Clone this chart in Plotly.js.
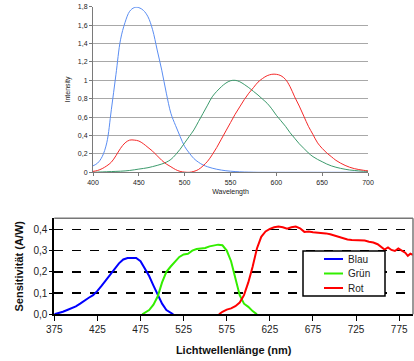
<!DOCTYPE html>
<html>
<head>
<meta charset="utf-8">
<script src="https://cdn.plot.ly/plotly-3.0.1.min.js"></script>
<style>html,body{margin:0;padding:0;background:#fff;}#chart{width:414px;height:361px;}</style>
</head>
<body>
<div id="chart"></div>
<script>
// ---- Top chart: cone sensitivities ----
const topWl = [400,405,410,415,420,425,430,435,440,445,450,455,460,465,470,475,480,485,490,495,500,505,510,515,520,525,530,535,540,545,550,555,560,565,570,575,580,585,590,595,600,605,610,615,620,625,630,635,640,645,650,655,660,665,670,675,680,685,690,695,700];
const topBlue = [0.07,0.10,0.17,0.32,0.68,1.06,1.44,1.63,1.75,1.79,1.79,1.76,1.69,1.55,1.33,1.11,0.86,0.64,0.51,0.39,0.28,0.21,0.15,0.11,0.08,0.06,0.045,0.033,0.024,0.017,0.012,0.008,0.005,0.003,0.002,0.001,0,0,0,0,0,0,0,0,0,0,0,0,0,0,0,0,0,0,0,0,0,0,0,0,0];
const topGreen = [0,0.002,0.004,0.006,0.008,0.01,0.012,0.015,0.02,0.027,0.035,0.042,0.05,0.062,0.075,0.09,0.11,0.14,0.19,0.25,0.32,0.39,0.46,0.55,0.64,0.73,0.82,0.88,0.93,0.97,0.995,1.0,0.985,0.955,0.92,0.88,0.84,0.795,0.75,0.69,0.62,0.56,0.5,0.43,0.37,0.31,0.26,0.21,0.17,0.14,0.115,0.09,0.07,0.055,0.043,0.033,0.025,0.02,0.015,0.012,0.01];
const topRed = [0.01,0.02,0.04,0.07,0.11,0.18,0.26,0.32,0.35,0.35,0.34,0.31,0.27,0.23,0.18,0.13,0.09,0.06,0.03,0.01,0.002,0,0.01,0.03,0.07,0.12,0.19,0.27,0.36,0.45,0.54,0.63,0.71,0.79,0.86,0.92,0.98,1.02,1.05,1.065,1.065,1.05,1.01,0.93,0.82,0.72,0.61,0.5,0.41,0.32,0.26,0.21,0.17,0.13,0.1,0.075,0.055,0.04,0.03,0.022,0.015];

// ---- Bottom chart: sensor sensitivity ----
const blauWl = [375,380,385,390,395,400,405,410,415,420,425,430,435,440,445,450,455,460,465,470,475,480,485,490,495,500,505,510,513];
const blauVal = [0,0.005,0.012,0.02,0.028,0.037,0.05,0.065,0.078,0.09,0.11,0.135,0.16,0.185,0.21,0.24,0.258,0.265,0.265,0.265,0.25,0.215,0.18,0.135,0.09,0.05,0.02,0.005,0];
const gruenWl = [477,480,485,490,495,500,505,510,515,520,525,530,535,540,545,550,555,560,565,570,575,580,585,590,595,600,605,610];
const gruenVal = [0,0.008,0.02,0.045,0.085,0.15,0.2,0.225,0.25,0.27,0.282,0.285,0.3,0.307,0.31,0.312,0.32,0.325,0.328,0.325,0.3,0.25,0.17,0.09,0.05,0.035,0.015,0];
const rotWl = [566,570,575,580,585,590,595,600,605,610,615,620,625,630,635,640,645,650,655,660,665,670,675,680,685,690,695,700,705,710,715,720,725,730,735,740,745,750,755,758,762,766,770,774,778,782,785,788,791];
const rotVal = [0,0.012,0.022,0.028,0.038,0.055,0.09,0.15,0.224,0.31,0.365,0.39,0.402,0.41,0.413,0.41,0.403,0.41,0.413,0.405,0.388,0.39,0.386,0.385,0.384,0.381,0.377,0.371,0.364,0.357,0.352,0.35,0.35,0.35,0.347,0.342,0.338,0.33,0.312,0.305,0.315,0.303,0.298,0.31,0.3,0.29,0.275,0.285,0.28];
const legendNames = ['Blau','Grün','Rot'];
const legendColors = ['#0000ff','#33ee00','#ff0000'];

const F = 'Arial, "Liberation Sans", sans-serif';
const W = 414, H = 361;
const px = v => v / W;          // pixel -> paper x
const py = v => 1 - v / H;      // pixel -> paper y

const traces = [
  {x: topWl, y: topBlue, xaxis:'x', yaxis:'y', mode:'lines', line:{color:'#5a8df2', width:1, shape:'spline'}, showlegend:false},
  {x: topWl, y: topGreen, xaxis:'x', yaxis:'y', mode:'lines', line:{color:'#3c9a6c', width:1, shape:'spline'}, showlegend:false},
  {x: topWl, y: topRed, xaxis:'x', yaxis:'y', mode:'lines', line:{color:'#f42a2a', width:1, shape:'spline'}, showlegend:false},
  {x: blauWl, y: blauVal, xaxis:'x2', yaxis:'y2', mode:'lines', name: legendNames[0], line:{color:legendColors[0], width:2}, showlegend:false},
  {x: gruenWl, y: gruenVal, xaxis:'x2', yaxis:'y2', mode:'lines', name: legendNames[1], line:{color:legendColors[1], width:2}, showlegend:false},
  {x: rotWl, y: rotVal, xaxis:'x2', yaxis:'y2', mode:'lines', name: legendNames[2], line:{color:legendColors[2], width:2}, showlegend:false}
];

// compact legend box (Excel style) built from names/colours
const legBox = {l:303, t:251, r:385, b:296};
const legRows = [259, 273.5, 288];
const shapes = [
  {type:'line', xref:'x2 domain', yref:'y2 domain', x0:0, x1:1, y0:1, y1:1, line:{color:'#777', width:1.5}},
  {type:'line', xref:'x2 domain', yref:'y2 domain', x0:1, x1:1, y0:0, y1:1, line:{color:'#777', width:1.5}},
  {type:'rect', xref:'paper', yref:'paper', x0:px(legBox.l), x1:px(legBox.r), y0:py(legBox.b), y1:py(legBox.t),
   fillcolor:'#fff', line:{color:'#000', width:1.5}, layer:'above'}
];
const annotations = [];
legendNames.forEach((n, i) => {
  shapes.push({type:'line', xref:'paper', yref:'paper', x0:px(324), x1:px(343), y0:py(legRows[i]), y1:py(legRows[i]),
               line:{color:legendColors[i], width:2}, layer:'above'});
  annotations.push({xref:'paper', yref:'paper', x:px(345.5), y:py(legRows[i]), xanchor:'left', yanchor:'middle',
                    text:n, showarrow:false, font:{size:10, color:'#222', family:F}});
});

const layout = {
  width: W, height: H,
  margin: {l:0, r:0, t:0, b:0},
  paper_bgcolor: '#fff', plot_bgcolor: '#fff',
  separators: ',.',
  font: {family: F, color: '#000', size: 7},
  showlegend: false,
  xaxis: {
    domain: [93/W, 368/W], anchor: 'y',
    range: [400, 700], dtick: 50, tick0: 400,
    showgrid: false, zeroline: false,
    showline: true, linecolor: '#7a7a7a', linewidth: 1,
    ticks: 'outside', ticklen: 3, tickcolor: '#7a7a7a',
    tickfont: {size: 7, color: '#222'},
    title: {text: 'Wavelength', font: {size: 7, color: '#222'}, standoff: 4}
  },
  yaxis: {
    domain: [1-172.3/H, 1-6.7/H], anchor: 'x',
    range: [0, 1.8], dtick: 0.2, tick0: 0,
    showgrid: true, gridcolor: '#a8a8a8', gridwidth: 1,
    zeroline: false,
    showline: true, linecolor: '#7a7a7a', linewidth: 1,
    ticks: 'outside', ticklen: 3, tickcolor: '#7a7a7a',
    tickfont: {size: 7, color: '#222'},
    title: {text: 'Intensity', font: {size: 7, color: '#222'}, standoff: 6}
  },
  xaxis2: {
    domain: [54.3/W, 413/W], anchor: 'y2',
    range: [375, 791], dtick: 50, tick0: 375,
    showgrid: false, zeroline: false,
    showline: true, linecolor: '#000', linewidth: 2,
    ticks: 'outside', ticklen: 5, tickwidth: 1, tickcolor: '#000',
    tickfont: {size: 10, color: '#222'},
    title: {text: '<b>Lichtwellenlänge (nm)</b>', font: {size: 11, color: '#111'}, standoff: 12}
  },
  yaxis2: {
    domain: [1-314.3/H, 1-218.3/H], anchor: 'x2',
    range: [0, 0.452], dtick: 0.1, tick0: 0, tickformat: '.1f',
    showgrid: true, gridcolor: '#000', gridwidth: 1.5, griddash: 'dash',
    zeroline: false,
    showline: true, linecolor: '#000', linewidth: 2,
    ticks: 'outside', ticklen: 3, tickwidth: 1, tickcolor: '#000',
    tickfont: {size: 10, color: '#222'},
    title: {text: '<b>Sensitivität (A/W)</b>', font: {size: 11, color: '#111'}, standoff: 8}
  },
  shapes: shapes,
  annotations: annotations
};

Plotly.newPlot('chart', traces, layout, {staticPlot: true, displayModeBar: false});
</script>
</body>
</html>
